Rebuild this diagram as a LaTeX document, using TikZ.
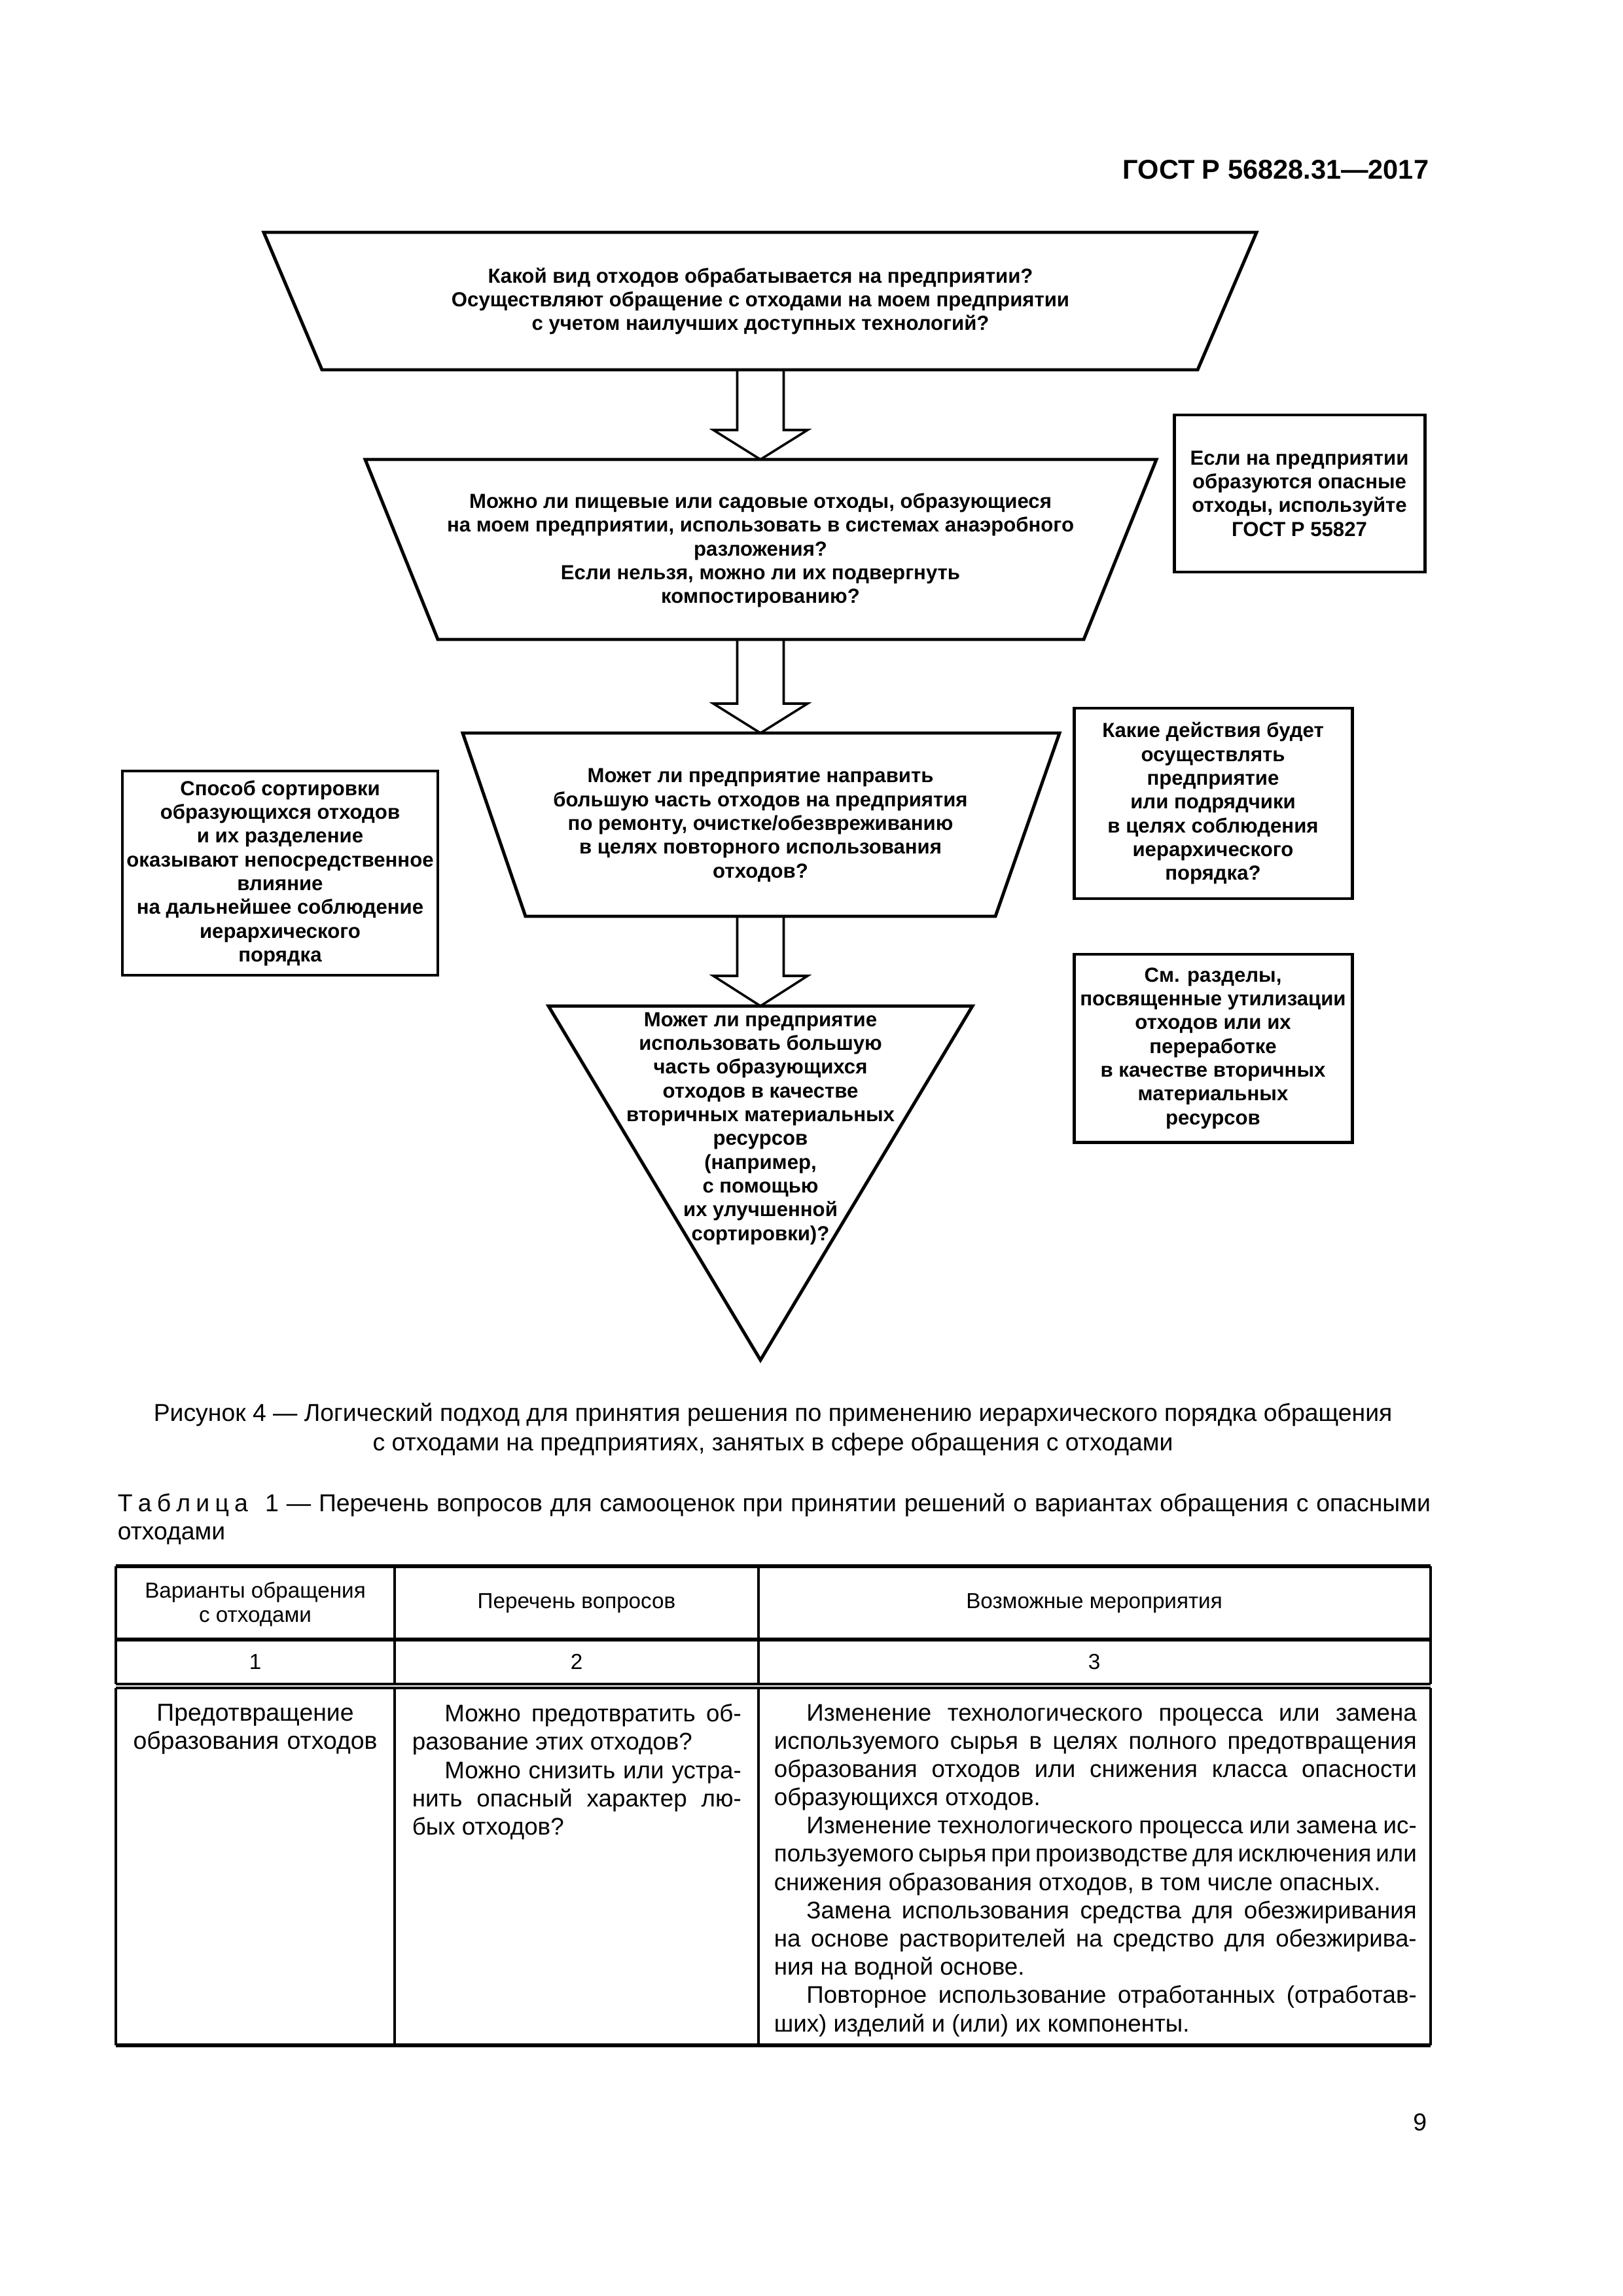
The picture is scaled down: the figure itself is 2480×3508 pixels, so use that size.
\documentclass[tikz,border=0pt]{standalone}
\usepackage{fontspec}
\setmainfont{Liberation Sans}
\usetikzlibrary{calc}
\newcommand{\px}{0.0846774mm}
\newcommand{\pind}{4.2mm}
\newcommand{\tightset}{\hyphenpenalty=10000\tolerance=10000\spaceskip=0.278em plus 0.5em minus 0.2em\relax}
\newcommand{\blockarrow}[3]{%
  \draw[arrowline] ($(#1)+(-35.5,0)$) -- ($(#2)+(-35.5,-#3)$) -- ($(#2)+(-72,-#3)$) -- (#2) -- ($(#2)+(72,-#3)$) -- ($(#2)+(35.5,-#3)$) -- ($(#1)+(35.5,0)$);}
\tikzset{
  shapeline/.style={line width=0.42mm, line join=miter},
  arrowline/.style={line width=0.3mm, line join=miter},
  ftext/.style={align=center, inner sep=0pt, font=\bfseries\fontsize{7.5}{8.75}\selectfont},
  fbox/.style={draw, shapeline, ftext},
  tline/.style={line width=0.28mm},
  tthick/.style={line width=0.45mm},
  body/.style={inner sep=0pt, font=\fontsize{9}{10.4}\selectfont},
  bodyj/.style={inner sep=0pt, align=justify, font=\fontsize{8.85}{10.4}\selectfont},
  head/.style={inner sep=0pt, align=center, font=\fontsize{8}{9.1}\selectfont},
}
\begin{document}
\begin{tikzpicture}[x=\px, y=-\px]
\fill[white] (0,0) rectangle (2480,3508);
\useasboundingbox (0,0) rectangle (2480,3508);

% running head
\node[anchor=base east, inner sep=0pt, font=\bfseries\fontsize{10}{12}\selectfont] (hdr) at (2184,273) {ГОСТ Р 56828.31—2017};

% trapezoid 1
\coordinate (t1a) at (403,355); \coordinate (t1b) at (1920,355);
\coordinate (t1c) at (1830,565); \coordinate (t1d) at (492,565);
\draw[shapeline] (t1a) -- (t1b) -- (t1c) -- (t1d) -- cycle;
\node[ftext] (q1) at (1162,460) {Какой вид отходов обрабатывается на предприятии?\\Осуществляют обращение с отходами на моем предприятии\\с учетом наилучших доступных технологий?};

% trapezoid 2
\coordinate (t2a) at (558,702); \coordinate (t2b) at (1767,702);
\coordinate (t2c) at (1656,977); \coordinate (t2d) at (669,977);
\draw[shapeline] (t2a) -- (t2b) -- (t2c) -- (t2d) -- cycle;
\node[ftext] (q2) at (1162,841) {Можно ли пищевые или садовые отходы, образующиеся\\на моем предприятии, использовать в системах анаэробного\\разложения?\\Если нельзя, можно ли их подвергнуть\\компостированию?};

% trapezoid 3
\coordinate (t3a) at (707,1120); \coordinate (t3b) at (1619,1120);
\coordinate (t3c) at (1521,1400); \coordinate (t3d) at (803,1400);
\draw[shapeline] (t3a) -- (t3b) -- (t3c) -- (t3d) -- cycle;
\node[ftext] (q3) at (1162,1261) {Может ли предприятие направить\\большую часть отходов на предприятия\\по ремонту, очистке/обезвреживанию\\в целях повторного использования\\отходов?};

% triangle
\coordinate (t4a) at (838,1537); \coordinate (t4b) at (1486,1537);
\coordinate (t4c) at (1162,2078);
\draw[shapeline] (t4a) -- (t4b) -- (t4c) -- cycle;
\node[ftext, anchor=north] (q4) at (1162,1546) {Может ли предприятие\\использовать большую\\часть образующихся\\отходов в качестве\\вторичных материальных\\ресурсов\\(например,\\с помощью\\их улучшенной\\сортировки)?};

% arrows
\coordinate (t1s) at (1162,565); \coordinate (t2n) at (1162,702);
\coordinate (t2s) at (1162,977); \coordinate (t3n) at (1162,1120);
\coordinate (t3s) at (1162,1400); \coordinate (t4n) at (1162,1537);
\blockarrow{t1s}{t2n}{45}
\blockarrow{t2s}{t3n}{45}
\blockarrow{t3s}{t4n}{46}

% side boxes
\node[fbox, minimum width=383*\px, minimum height=240*\px] (b1) at (1985.5,754) {Если на предприятии\\образуются опасные\\отходы, используйте\\ГОСТ Р 55827};
\node[fbox, minimum width=425*\px, minimum height=291*\px] (b2) at (1853.5,1227.5) {Какие действия будет\\осуществлять\\предприятие\\или подрядчики\\в целях соблюдения\\иерархического\\порядка?};
\node[fbox, minimum width=425*\px, minimum height=287*\px] (b3) at (1853.5,1601.5) {См. разделы,\\посвященные утилизации\\отходов или их\\переработке\\в качестве вторичных\\материальных\\ресурсов};
\node[fbox, minimum width=482*\px, minimum height=312*\px] (b4) at (428,1334) {Способ сортировки\\образующихся отходов\\и их разделение\\оказывают непосредственное\\влияние\\на дальнейшее соблюдение\\иерархического\\порядка};

% caption
\node[anchor=north, inner sep=0pt, align=center, font=\fontsize{9}{10.8}\selectfont] (cap) at (1181,2143) {Рисунок 4 — Логический подход для принятия решения по применению иерархического порядка обращения\\с отходами на предприятиях, занятых в сфере обращения с отходами};

% table title
\node[anchor=north west, inner sep=0pt, text width=2006*\px, align=justify, font=\fontsize{9}{10.3}\selectfont] (ttl) at (179,2281) {\tightset Т\kern0.22em а\kern0.22em б\kern0.22em л\kern0.22em и\kern0.22em ц\kern0.22em а\hspace{0.7em}1 — Перечень вопросов для самооценок при принятии решений о вариантах обращения с опасными\linebreak отходами};

% table rules
\draw[tthick] (177,2393) -- (2186,2393);
\draw[tthick] (177,2505) -- (2186,2505);
\draw[tline] (177,2573) -- (2186,2573);
\draw[tline] (177,2579) -- (2186,2579);
\draw[tthick] (177,3125) -- (2186,3125);
\foreach \xx in {177,603,1159,2186} {
  \draw[tline] (\xx,2393) -- (\xx,2573);
  \draw[tline] (\xx,2579) -- (\xx,3125);
}

% table head
\node[head] (h1) at (390,2451) {Варианты обращения\\с отходами};
\node[head] (h2) at (881,2449) {Перечень вопросов};
\node[head] (h3) at (1672,2449) {Возможные мероприятия};
\node[head] (n1) at (390,2539) {1};
\node[head] (n2) at (881,2539) {2};
\node[head] (n3) at (1672,2539) {3};

% table body
\node[body, anchor=north, align=center, text width=420*\px] (c1) at (390,2603) {Предотвращение\\образования отходов};
\node[bodyj, anchor=north west, text width=503*\px] (c2) at (629,2603) {\tightset\hspace*{\pind}Можно предотвратить об-\linebreak разование этих отходов?\par
\hspace*{\pind}Можно снизить или устра-\linebreak нить опасный характер лю-\linebreak бых отходов?};
\node[bodyj, anchor=north west, text width=982*\px] (c3) at (1182,2603) {\tightset\hspace*{\pind}Изменение технологического процесса или замена\linebreak используемого сырья в целях полного предотвращения\linebreak образования отходов или снижения класса опасности\linebreak образующихся отходов.\par
\hspace*{\pind}Изменение технологического процесса или замена ис-\linebreak пользуемого сырья при производстве для исключения или\linebreak снижения образования отходов, в том числе опасных.\par
\hspace*{\pind}Замена использования средства для обезжиривания\linebreak на основе растворителей на средство для обезжирива-\linebreak ния на водной основе.\par
\hspace*{\pind}Повторное использование отработанных (отработав-\linebreak ших) изделий и (или) их компоненты.};

% page number
\node[anchor=base east, inner sep=0pt, font=\fontsize{9}{10.8}\selectfont] (pg) at (2181,3255) {9};
\end{tikzpicture}
\end{document}
